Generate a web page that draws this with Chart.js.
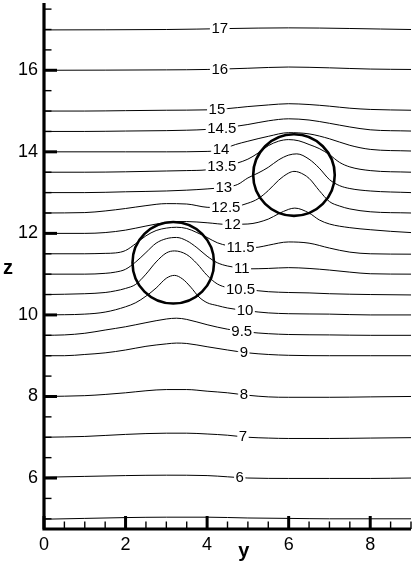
<!DOCTYPE html>
<html><head><meta charset="utf-8">
<script src="https://cdn.jsdelivr.net/npm/chart.js@4/dist/chart.umd.min.js"></script>
<style>html,body{margin:0;padding:0;background:#fff}canvas{display:block}</style>
</head><body>
<canvas id="c" width="415" height="567"></canvas>
<script>
// ---- data ----
const xTickValues = [0, 2, 4, 6, 8];
const yTickValues = [6, 8, 10, 12, 14, 16];
const xTitle = 'y';
const yTitle = 'z';

const contourLevels = ['5','6','7','8','9','9.5','10','10.5','11','11.5','12','12.5','13','13.5','14','14.5','15','16','17'];

const contour_5 = [[0,4.99],[1,5.01],[2,5.03],[3,5.04],[4,5.04],[5,5.02],[6,5.01],[7,5.0],[9,5.0]];
const contour_6 = [[0,6.02],[1,6.04],[2,6.06],[3,6.07],[4,6.06],[4.5,6.03],[5,6.0],[6,5.99],[7,5.99],[8,5.99],[9,6.0]];
const contour_7 = [[0,7.0],[1,7.02],[2,7.07],[3,7.1],[3.5,7.1],[4,7.08],[4.5,7.05],[5,7.0],[5.5,6.98],[6,6.97],[7,6.97],[8,6.98],[9,6.99]];
const contour_8 = [[0,8.0],[1,8.02],[1.5,8.05],[2,8.09],[2.5,8.14],[3,8.17],[3.5,8.17],[4,8.13],[4.5,8.09],[5,8.03],[5.5,7.99],[6,7.98],[7,7.98],[8,7.99],[9,8.0]];
const contour_9 = [[0,9.0],[0.5,9.0],[1,9.03],[1.5,9.07],[2,9.14],[2.5,9.23],[3,9.29],[3.25,9.31],[3.5,9.3],[4,9.22],[4.5,9.14],[5,9.07],[5.5,9.03],[6,9.01],[7,9.0],[8,9.0],[9,9.0]];
const contour_9_5 = [[0,9.5],[0.5,9.51],[1,9.55],[1.5,9.63],[2,9.71],[2.5,9.81],[3,9.9],[3.25,9.92],[3.5,9.89],[4,9.76],[4.5,9.65],[5,9.58],[5.5,9.54],[6,9.52],[7,9.51],[8,9.5],[9,9.5]];
const contour_10 = [[0,10.0],[1,10.02],[1.5,10.07],[2,10.2],[2.25,10.3],[2.5,10.46],[2.75,10.66],[3,10.9],[3.2,10.97],[3.4,10.88],[3.6,10.68],[3.8,10.44],[4,10.3],[4.25,10.23],[4.5,10.17],[5,10.1],[5.5,10.05],[6,10.03],[7,10.02],[8,10.0],[9,10.0]];
const contour_10_5 = [[0,10.5],[1,10.52],[1.5,10.55],[1.75,10.59],[2,10.65],[2.25,10.75],[2.5,11.0],[2.75,11.3],[3,11.52],[3.2,11.57],[3.5,11.48],[3.75,11.26],[4,10.97],[4.25,10.76],[4.5,10.67],[5,10.62],[5.5,10.57],[6,10.55],[6.5,10.54],[7,10.52],[8,10.5],[9,10.49]];
const contour_11 = [[0,11.0],[1,11.0],[1.5,11.02],[1.75,11.05],[2,11.12],[2.25,11.3],[2.5,11.53],[2.75,11.76],[3,11.87],[3.25,11.9],[3.5,11.82],[3.75,11.65],[4,11.44],[4.25,11.28],[4.5,11.2],[4.75,11.16],[5,11.13],[5.5,11.14],[6,11.16],[6.5,11.14],[7,11.1],[7.5,11.05],[8,11.01],[9,11.0]];
const contour_11_5 = [[0,11.5],[1,11.5],[1.5,11.51],[1.75,11.52],[2,11.58],[2.25,11.75],[2.5,11.94],[2.75,12.07],[3,12.13],[3.25,12.15],[3.5,12.12],[3.75,12.02],[4,11.9],[4.25,11.77],[4.5,11.7],[4.75,11.66],[5,11.65],[5.25,11.66],[5.5,11.71],[6,11.79],[6.5,11.76],[7,11.64],[7.5,11.54],[8,11.5],[9,11.49]];
const contour_12 = [[0,12.0],[1,12.0],[1.5,12.02],[2,12.08],[2.5,12.18],[3,12.27],[3.25,12.29],[3.5,12.29],[4,12.26],[4.5,12.22],[5,12.23],[5.5,12.35],[5.75,12.48],[6,12.59],[6.15,12.62],[6.5,12.5],[6.75,12.33],[7,12.23],[7.5,12.14],[8,12.09],[8.5,12.05],[9,12.02]];
const contour_12_5 = [[0,12.5],[1,12.51],[1.5,12.55],[2,12.61],[2.5,12.68],[3,12.73],[3.5,12.72],[4,12.64],[4.5,12.63],[5,12.74],[5.25,12.85],[5.5,13.05],[5.75,13.3],[6,13.48],[6.13,13.52],[6.25,13.5],[6.5,13.35],[6.75,13.05],[7,12.78],[7.25,12.67],[7.5,12.6],[8,12.53],[9,12.5]];
const contour_13 = [[0,13.0],[1,13.0],[2,13.02],[3,13.04],[3.5,13.06],[4,13.09],[4.5,13.14],[4.75,13.2],[5,13.36],[5.25,13.48],[5.5,13.62],[5.75,13.8],[6,13.92],[6.2,13.95],[6.5,13.82],[6.75,13.6],[7,13.32],[7.25,13.17],[7.5,13.1],[8,13.04],[9,13.0]];
const contour_13_5 = [[0,13.5],[1,13.5],[2,13.51],[3,13.53],[3.5,13.54],[4,13.56],[4.5,13.66],[5,13.82],[5.25,13.97],[5.5,14.15],[5.75,14.26],[6,14.3],[6.25,14.27],[6.5,14.18],[6.75,14.08],[7,13.93],[7.25,13.74],[7.5,13.63],[8,13.54],[9,13.5]];
const contour_14 = [[0,14.0],[2,14.0],[3,14.0],[4,14.01],[4.3,14.04],[4.7,14.18],[5,14.26],[5.5,14.38],[6,14.47],[6.5,14.44],[7,14.32],[7.5,14.16],[8,14.06],[9,14.02]];
const contour_14_5 = [[0,14.5],[1,14.5],[2,14.51],[3,14.52],[3.5,14.53],[4,14.55],[4.5,14.6],[5,14.67],[5.5,14.76],[6,14.81],[6.5,14.78],[7,14.7],[7.5,14.61],[8,14.54],[9,14.51]];
const contour_15 = [[0,15.0],[1,15.0],[2,15.01],[3,15.02],[4,15.03],[4.5,15.06],[5,15.11],[5.5,15.15],[6,15.18],[6.5,15.16],[7,15.12],[7.5,15.07],[8,15.04],[9,15.02]];
const contour_16 = [[0,16.0],[3,16.01],[4,16.02],[5,16.05],[6,16.08],[7,16.06],[8,16.03],[9,16.02]];
const contour_17 = [[0,16.99],[3,17.0],[6,17.04],[9,17.0]];

const contours = [contour_5, contour_6, contour_7, contour_8, contour_9, contour_9_5, contour_10, contour_10_5,
  contour_11, contour_11_5, contour_12, contour_12_5, contour_13, contour_13_5, contour_14, contour_14_5,
  contour_15, contour_16, contour_17];

// where along y each contour label sits (null = unlabeled)
const labelAtY = [null, 4.8, 4.88, 4.9, 4.9, 4.85, 4.93, 4.82, 4.85, 4.82, 4.62, 4.46, 4.41, 4.36, 4.34, 4.36, 4.24, 4.31, 4.31];

// cylinders: centre (y, z) and radius
const circleY = [3.17, 6.13];
const circleZ = [11.28, 13.43];
const circleR = [1.0, 1.0];

// ---- chart ----
const FONT = '"Liberation Sans", Arial, Helvetica, sans-serif';

function interpZ(pts, yv) {
  for (let i = 0; i < pts.length - 1; i++) {
    const [y0, z0] = pts[i], [y1, z1] = pts[i + 1];
    if (yv >= y0 && yv <= y1) return z0 + (z1 - z0) * (yv - y0) / (y1 - y0);
  }
  return pts[pts.length - 1][1];
}

const decor = {
  id: 'decor',
  afterDatasetsDraw(chart) {
    const { ctx, scales: { x, y } } = chart;
    ctx.save();
    // contour labels with a white gap
    ctx.font = '15px ' + FONT;
    ctx.textAlign = 'center';
    ctx.textBaseline = 'middle';
    contourLevels.forEach((lev, i) => {
      const ly = labelAtY[i];
      if (ly == null) return;
      const z = interpZ(contours[i], ly);
      const px = x.getPixelForValue(ly), py = y.getPixelForValue(z);
      const w = ctx.measureText(lev).width;
      ctx.fillStyle = '#fff';
      ctx.fillRect(px - w / 2 - 1.5, py - 6.5, w + 3, 13);
      ctx.fillStyle = '#000';
      ctx.fillText(lev, px, py + 0.5);
    });
    // cylinders
    ctx.strokeStyle = '#000';
    ctx.lineWidth = 2.6;
    circleY.forEach((cy, i) => {
      const px = x.getPixelForValue(cy), py = y.getPixelForValue(circleZ[i]);
      const rx = x.getPixelForValue(cy + circleR[i]) - px;
      const ry = py - y.getPixelForValue(circleZ[i] + circleR[i]);
      ctx.beginPath();
      ctx.ellipse(px, py, rx, ry, 0, 0, Math.PI * 2);
      ctx.stroke();
    });
    ctx.restore();
  },
  afterDraw(chart) {
    const { ctx, chartArea: a, scales: { x, y } } = chart;
    ctx.save();
    ctx.strokeStyle = '#000';
    // axis lines
    ctx.lineWidth = 3.2;
    ctx.beginPath();
    ctx.moveTo(a.left, a.top);
    ctx.lineTo(a.left, a.bottom);
    ctx.lineTo(a.right, a.bottom);
    ctx.stroke();
    // ticks (inward)
    for (let v = x.min; v <= x.max + 1e-9; v += 0.5) {
      const major = xTickValues.includes(v);
      const p = x.getPixelForValue(v);
      ctx.lineWidth = major ? 3 : 1.4;
      ctx.beginPath();
      ctx.moveTo(p, a.bottom);
      ctx.lineTo(p, a.bottom - (major ? 13 : 7.5));
      ctx.stroke();
    }
    for (let v = 5; v <= y.max + 1e-9; v += 0.5) {
      const major = yTickValues.includes(v);
      const p = y.getPixelForValue(v);
      ctx.lineWidth = major ? 3 : 1.4;
      ctx.beginPath();
      ctx.moveTo(a.left, p);
      ctx.lineTo(a.left + (major ? 13 : 7.5), p);
      ctx.stroke();
    }
    // axis titles
    ctx.fillStyle = '#000';
    ctx.font = 'bold 20px ' + FONT;
    ctx.textAlign = 'center';
    ctx.textBaseline = 'middle';
    ctx.fillText(yTitle, 8, y.getPixelForValue(11.15));
    ctx.fillText(xTitle, x.getPixelForValue(4.9), 551);
    ctx.restore();
  }
};

new Chart(document.getElementById('c'), {
  type: 'scatter',
  data: {
    datasets: contours.map((pts, i) => ({
      label: contourLevels[i],
      data: pts.map(([yy, zz]) => ({ x: yy, y: zz })),
      showLine: true,
      borderColor: '#000',
      borderWidth: 1,
      pointRadius: 0,
      pointHoverRadius: 0,
      fill: false,
      cubicInterpolationMode: 'monotone'
    }))
  },
  options: {
    responsive: false,
    animation: false,
    devicePixelRatio: 1,
    layout: { padding: { left: 0, right: 4, top: 3, bottom: 0 } },
    plugins: { legend: { display: false }, tooltip: { enabled: false } },
    scales: {
      x: {
        type: 'linear', min: 0, max: 9,
        grid: { display: false, drawTicks: false },
        border: { display: false },
        afterBuildTicks: s => { s.ticks = xTickValues.map(v => ({ value: v })); },
        afterFit: s => { s.height = 38; s.paddingLeft = 0; s.paddingRight = 0; },
        ticks: { color: '#000', font: { family: FONT, size: 18 }, padding: 5, maxRotation: 0, autoSkip: false }
      },
      y: {
        type: 'linear', min: 4.75, max: 17.65,
        grid: { display: false, drawTicks: false },
        border: { display: false },
        afterBuildTicks: s => { s.ticks = yTickValues.map(v => ({ value: v })); },
        afterFit: s => { s.width = 44; s.paddingTop = 0; s.paddingBottom = 0; },
        ticks: { color: '#000', font: { family: FONT, size: 18 }, padding: 6, autoSkip: false }
      }
    }
  },
  plugins: [decor]
});
</script>
</body></html>
